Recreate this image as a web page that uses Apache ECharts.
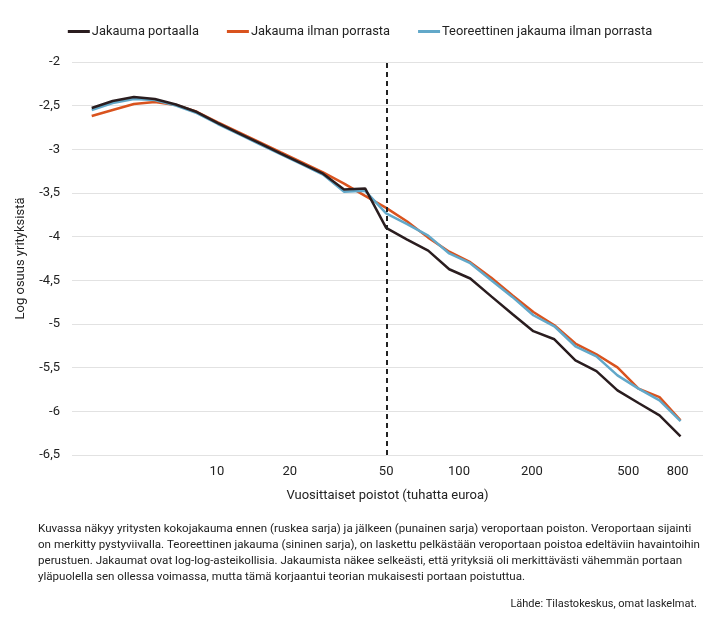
<!DOCTYPE html>
<html>
<head>
<meta charset="utf-8">
<script src="https://cdn.jsdelivr.net/npm/echarts@6/dist/echarts.min.js"></script>
<style>
  html, body { margin: 0; padding: 0; background: #fff; }
  #chart { width: 720px; height: 622px; }
</style>
</head>
<body>
<div id="chart"></div>
<script>
// x positions in thousand euros (bin points, log-spaced)
const X_VALUES = [3.04, 3.71, 4.54, 5.54, 6.77, 8.26, 10.09, 12.33, 15.06, 18.39,
  22.47, 27.44, 33.52, 40.94, 50, 61.07, 74.59, 91.11, 111.28, 135.91,
  166.01, 202.76, 247.65, 302.48, 369.45, 451.25, 551.16, 673.19, 822.23];

const WITH_STEP = [-2.527, -2.447, -2.401, -2.424, -2.487, -2.573, -2.700, -2.816, -2.932, -3.048,
  -3.163, -3.279, -3.459, -3.448, -3.899, -4.033, -4.160, -4.373, -4.479, -4.684,
  -4.885, -5.082, -5.175, -5.416, -5.539, -5.760, -5.905, -6.046, -6.287];

const WITHOUT_STEP = [-2.619, -2.550, -2.481, -2.459, -2.493, -2.570, -2.690, -2.805, -2.920, -3.035,
  -3.150, -3.265, -3.392, -3.533, -3.670, -3.826, -4.011, -4.172, -4.292, -4.470,
  -4.671, -4.862, -5.015, -5.224, -5.347, -5.496, -5.740, -5.837, -6.104];

const THEORY = [-2.550, -2.470, -2.424, -2.436, -2.499, -2.585, -2.710, -2.826, -2.942, -3.058,
  -3.173, -3.289, -3.487, -3.475, -3.734, -3.857, -3.988, -4.192, -4.304, -4.499,
  -4.690, -4.900, -5.026, -5.255, -5.370, -5.588, -5.740, -5.874, -6.111];

const SERIES_NAMES = ["Jakauma portaalla", "Jakauma ilman porrasta", "Teoreettinen jakauma ilman porrasta"];
const X_TICKS = [10, 20, 50, 100, 200, 500, 800];
const X_MIN = 2.52;
const X_MAX = 1018;
const THRESHOLD = 50;

const CAPTION_LINES = [
  "Kuvassa näkyy yritysten kokojakauma ennen (ruskea sarja) ja jälkeen (punainen sarja) veroportaan poiston. Veroportaan sijainti",
  "on merkitty pystyviivalla. Teoreettinen jakauma (sininen sarja), on laskettu pelkästään veroportaan poistoa edeltäviin havaintoihin",
  "perustuen. Jakaumat ovat log-log-asteikollisia. Jakaumista näkee selkeästi, että yrityksiä oli merkittävästi vähemmän portaan",
  "yläpuolella sen ollessa voimassa, mutta tämä korjaantui teorian mukaisesti portaan poistuttua."
];
const SOURCE = "Lähde: Tilastokeskus, omat laskelmat.";

const COLORS = ["#2a1d1f", "#d9531e", "#62a8c9"];
const FONT = "Roboto";

function toPoints(values) {
  return X_VALUES.map((x, idx) => [Math.log10(x), values[idx]]);
}

function buildSeries(name, values, color, extra) {
  return Object.assign({
    name,
    type: "line",
    showSymbol: false,
    symbol: "none",
    smooth: false,
    lineStyle: { color, width: 2.5 },
    itemStyle: { color },
    data: toPoints(values),
  }, extra || {});
}

const chart = echarts.init(document.getElementById("chart"), null, { renderer: "canvas" });

const option = {
  animation: false,
  backgroundColor: "#fff",
  textStyle: { fontFamily: FONT },
  legend: {
    left: "center",
    top: 20,
    icon: "rect",
    itemWidth: 22,
    itemHeight: 3,
    itemGap: 28,
    textStyle: { fontFamily: FONT, fontSize: 12.9, color: "#222", padding: [0, 0, 0, -3] },
    data: SERIES_NAMES,
  },
  grid: {
    left: 72,
    right: 17,
    top: 62,
    bottom: 167,
    containLabel: false,
  },
  xAxis: {
    type: "value",
    min: Math.log10(X_MIN),
    max: Math.log10(X_MAX),
    name: "Vuosittaiset poistot (tuhatta euroa)",
    nameLocation: "middle",
    nameGap: 34,
    nameTextStyle: { fontFamily: FONT, fontSize: 13, color: "#222" },
    axisLine: { show: false },
    axisTick: { show: false },
    splitLine: { show: false },
    axisLabel: {
      customValues: X_TICKS.map((t) => Math.log10(t)),
      formatter: (v) => String(Math.round(Math.pow(10, v))),
      fontFamily: FONT,
      fontSize: 13,
      color: "#222",
      margin: 10,
    },
  },
  yAxis: {
    type: "value",
    min: -6.5,
    max: -2,
    interval: 0.5,
    name: "Log osuus yrityksistä",
    nameLocation: "middle",
    nameGap: 45,
    nameTextStyle: { fontFamily: FONT, fontSize: 13, color: "#222" },
    axisLine: { show: false },
    axisTick: { show: false },
    splitLine: { lineStyle: { color: "#e2e2e2", width: 1 } },
    axisLabel: {
      formatter: (v) => String(v).replace(".", ","),
      fontFamily: FONT,
      fontSize: 13,
      color: "#222",
      margin: 12,
    },
  },
  series: [
    buildSeries(SERIES_NAMES[1], WITHOUT_STEP, COLORS[1], { z: 2 }),
    buildSeries(SERIES_NAMES[2], THEORY, COLORS[2], { z: 3 }),
    buildSeries(SERIES_NAMES[0], WITH_STEP, COLORS[0], {
      z: 4,
      markLine: {
        silent: true,
        symbol: "none",
        label: { show: false },
        lineStyle: { color: "#222", type: [5, 4], width: 2 },
        data: [{ xAxis: Math.log10(THRESHOLD) }],
      },
    }),
  ],
  graphic: [
    {
      type: "text",
      left: 38,
      top: 521,
      style: {
        text: CAPTION_LINES.join("\n"),
        font: `11.6px ${FONT}`,
        fill: "#222",
        lineHeight: 16,
      },
    },
    {
      type: "text",
      right: 23,
      top: 599,
      style: {
        text: SOURCE,
        font: `11px ${FONT}`,
        fill: "#222",
      },
    },
  ],
};

chart.setOption(option);
</script>
</body>
</html>
